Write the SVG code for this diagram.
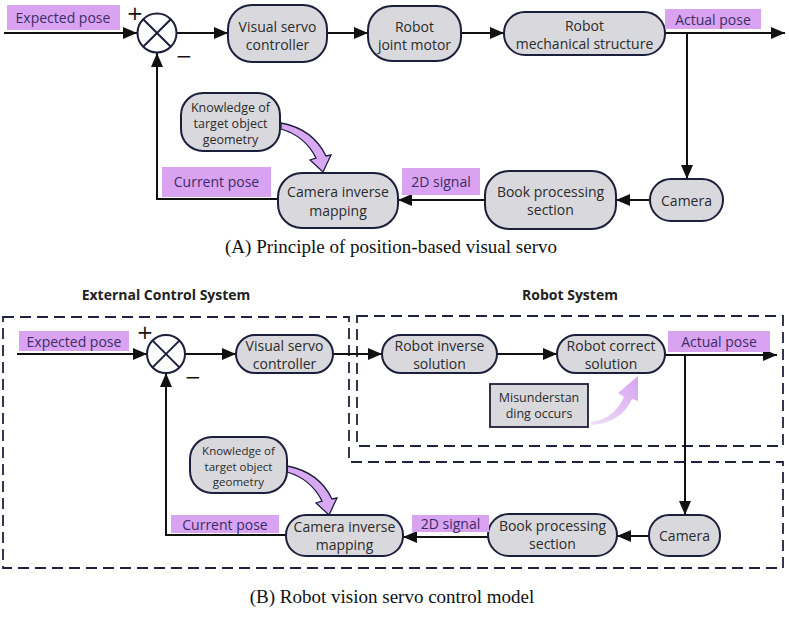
<svg xmlns="http://www.w3.org/2000/svg" width="789" height="617" viewBox="0 0 789 617">
<style>
.node{fill:#d9d9dd;stroke:#1c1f3b;stroke-width:2}
.lbl{fill:#d9a3f2}
.t{font-family:"Open Sans","Noto Sans",sans-serif;font-size:14px;fill:#2b2b2b;text-anchor:middle}
.ts{font-family:"Open Sans","Noto Sans",sans-serif;font-size:12.5px;fill:#2b2b2b;text-anchor:middle}
.tk{font-family:"Open Sans","Noto Sans",sans-serif;font-size:11.5px;fill:#2b2b2b;text-anchor:middle}
.tl{font-family:"Open Sans","Noto Sans",sans-serif;font-size:14px;fill:#3a2d66;text-anchor:middle}
.hd{font-family:"Open Sans","Noto Sans",sans-serif;font-size:14px;font-weight:bold;fill:#222;text-anchor:middle}
.cap{font-family:"Liberation Serif","Times New Roman",serif;font-size:19px;fill:#111;text-anchor:middle}
.sign{font-family:"DejaVu Sans",sans-serif;font-size:20px;fill:#111;text-anchor:middle}
.ln{fill:none;stroke:#111;stroke-width:2}
.dash{fill:none;stroke:#1f2240;stroke-width:1.8;stroke-dasharray:11 6}
.sum{fill:#fff;stroke:#1c1f3b;stroke-width:2}
.bend{fill:#d9a8f2;stroke:#1c1f3b;stroke-width:1.3}
</style>
<defs>
<marker id="ah" viewBox="0 0 14 12" refX="14" refY="6" markerWidth="14" markerHeight="12" markerUnits="userSpaceOnUse" orient="auto">
<path d="M0,0 L14,6 L0,12 Z" fill="#111"/>
</marker>
<linearGradient id="pg" x1="0" y1="1" x2="1" y2="0">
<stop offset="0" stop-color="#efdff7"/>
<stop offset="1" stop-color="#d7a2f0"/>
</linearGradient>
<path id="bendArrow" d="M281,123 Q313,129 326,156 L331,155 L323,172 L310,160 L316,158 Q305,136 281,129 Z"/>
</defs>

<!-- Part A -->
<g id="connectors-a">
<line class="ln" x1="4" y1="33" x2="137" y2="33" marker-end="url(#ah)"/>
<line class="ln" x1="176" y1="33" x2="228" y2="33" marker-end="url(#ah)"/>
<line class="ln" x1="327" y1="33" x2="368" y2="33" marker-end="url(#ah)"/>
<line class="ln" x1="461" y1="33" x2="504" y2="33" marker-end="url(#ah)"/>
<line class="ln" x1="665" y1="33" x2="785" y2="33" marker-end="url(#ah)"/>
<line class="ln" x1="687" y1="33" x2="687" y2="179" marker-end="url(#ah)"/>
<line class="ln" x1="650" y1="200" x2="616" y2="200" marker-end="url(#ah)"/>
<line class="ln" x1="485" y1="200" x2="398" y2="200" marker-end="url(#ah)"/>
<polyline class="ln" points="278,199 157,199 157,53" marker-end="url(#ah)"/>
<use href="#bendArrow" class="bend"/>
</g>
<g id="a-expected"><rect class="lbl" x="7" y="5" width="113" height="25"/><text class="tl" x="63" y="23">Expected pose</text></g>
<g id="a-sum">
<circle class="sum" cx="157" cy="33" r="19.5"/>
<line x1="143.2" y1="19.2" x2="170.8" y2="46.8" stroke="#1c1f3b" stroke-width="2"/>
<line x1="170.8" y1="19.2" x2="143.2" y2="46.8" stroke="#1c1f3b" stroke-width="2"/>
<text class="sign" x="135" y="20">+</text>
<text class="sign" x="184" y="63">−</text>
</g>
<g id="a-vsc"><rect class="node" x="228" y="5" width="99" height="57" rx="24"/><text class="t" x="277.5" y="32">Visual servo</text><text class="t" x="277.5" y="50">controller</text></g>
<g id="a-rjm"><rect class="node" x="368" y="6" width="93" height="55" rx="24"/><text class="t" x="414.5" y="32">Robot</text><text class="t" x="414.5" y="50">joint motor</text></g>
<g id="a-rms"><rect class="node" x="504" y="12" width="161" height="43" rx="21"/><text class="t" x="584.5" y="31">Robot</text><text class="t" x="584.5" y="49">mechanical structure</text></g>
<g id="a-actual"><rect class="lbl" x="665" y="9" width="96" height="20"/><text class="tl" x="713" y="25">Actual pose</text></g>
<g id="a-camera"><rect class="node" x="650" y="179" width="73" height="42" rx="21"/><text class="t" x="686.5" y="206">Camera</text></g>
<g id="a-book"><rect class="node" x="485" y="171" width="131" height="58" rx="24"/><text class="t" x="550.5" y="197">Book processing</text><text class="t" x="550.5" y="215">section</text></g>
<g id="a-2d"><rect class="lbl" x="402" y="168" width="78" height="27"/><text class="tl" x="441" y="187">2D signal</text></g>
<g id="a-cim"><rect class="node" x="278" y="173" width="120" height="55" rx="24"/><text class="t" x="338" y="197">Camera inverse</text><text class="t" x="338" y="216">mapping</text></g>
<g id="a-current"><rect class="lbl" x="162" y="167" width="109" height="30"/><text class="tl" x="216.5" y="187">Current pose</text></g>
<g id="a-knowledge"><rect class="node" x="181" y="93" width="99" height="58" rx="22"/><text class="ts" x="230.5" y="112">Knowledge of</text><text class="ts" x="230.5" y="128">target object</text><text class="ts" x="230.5" y="144">geometry</text></g>
<text class="cap" x="391" y="253">(A) Principle of position-based visual servo</text>

<!-- Part B -->
<g id="b-frames">
<path class="dash" d="M3,317 H349 V462 H783 V568 H3 Z"/>
<rect class="dash" x="357" y="316" width="426" height="130"/>
<text class="hd" x="166" y="300">External Control System</text>
<text class="hd" x="570" y="300">Robot System</text>
</g>
<g id="connectors-b">
<line class="ln" x1="17" y1="354" x2="147" y2="354" marker-end="url(#ah)"/>
<line class="ln" x1="185" y1="354" x2="236" y2="354" marker-end="url(#ah)"/>
<line class="ln" x1="333" y1="354" x2="382" y2="354" marker-end="url(#ah)"/>
<line class="ln" x1="497" y1="354" x2="557" y2="354" marker-end="url(#ah)"/>
<line class="ln" x1="665" y1="355" x2="777" y2="355" marker-end="url(#ah)"/>
<line class="ln" x1="685" y1="355" x2="685" y2="515" marker-end="url(#ah)"/>
<line class="ln" x1="649" y1="536" x2="617" y2="536" marker-end="url(#ah)"/>
<line class="ln" x1="488" y1="537" x2="403" y2="537" marker-end="url(#ah)"/>
<polyline class="ln" points="286,535 166,535 166,373" marker-end="url(#ah)"/>
<use href="#bendArrow" class="bend" transform="translate(6,343)"/>
<path d="M591,422 Q614,419 624,397 L618,393 L638,376 L638,401 L632,399 Q621,423 591,425 Z" fill="url(#pg)"/>
</g>
<g id="b-expected"><rect class="lbl" x="19" y="331" width="110" height="20"/><text class="tl" x="74" y="347">Expected pose</text></g>
<g id="b-sum">
<circle class="sum" cx="166" cy="354" r="19"/>
<line x1="152.6" y1="340.6" x2="179.4" y2="367.4" stroke="#1c1f3b" stroke-width="2"/>
<line x1="179.4" y1="340.6" x2="152.6" y2="367.4" stroke="#1c1f3b" stroke-width="2"/>
<text class="sign" x="145" y="339">+</text>
<text class="sign" x="193" y="384">−</text>
</g>
<g id="b-vsc"><rect class="node" x="236" y="335" width="97" height="38" rx="19"/><text class="t" x="284.5" y="351">Visual servo</text><text class="t" x="284.5" y="369">controller</text></g>
<g id="b-ris"><rect class="node" x="382" y="335" width="115" height="38" rx="19"/><text class="t" x="439.5" y="351">Robot inverse</text><text class="t" x="439.5" y="369">solution</text></g>
<g id="b-rcs"><rect class="node" x="557" y="335" width="108" height="38" rx="19"/><text class="t" x="611" y="351">Robot correct</text><text class="t" x="611" y="369">solution</text></g>
<g id="b-actual"><rect class="lbl" x="668" y="331" width="102" height="21"/><text class="tl" x="719" y="347">Actual pose</text></g>
<g id="b-mis"><rect x="490" y="384" width="98" height="43" fill="#d9d9dd" stroke="#1c1f3b" stroke-width="1.8"/><text class="ts" x="539" y="402">Misunderstan</text><text class="ts" x="539" y="418">ding occurs</text></g>
<g id="b-camera"><rect class="node" x="649" y="515" width="71" height="41" rx="20"/><text class="t" x="684.5" y="541">Camera</text></g>
<g id="b-book"><rect class="node" x="488" y="514" width="129" height="42" rx="21"/><text class="t" x="552.5" y="531">Book processing</text><text class="t" x="552.5" y="549">section</text></g>
<g id="b-2d"><rect class="lbl" x="412" y="515" width="77" height="17"/><text class="tl" x="450.5" y="529">2D signal</text></g>
<g id="b-cim"><rect class="node" x="286" y="515" width="117" height="41" rx="20"/><text class="t" x="344.5" y="532">Camera inverse</text><text class="t" x="344.5" y="550">mapping</text></g>
<g id="b-current"><rect class="lbl" x="171" y="515" width="108" height="18"/><text class="tl" x="225" y="530">Current pose</text></g>
<g id="b-knowledge"><rect class="node" x="190" y="437" width="97" height="56" rx="22"/><text class="tk" x="238.5" y="455">Knowledge of</text><text class="tk" x="238.5" y="470.5">target object</text><text class="tk" x="238.5" y="486">geometry</text></g>
<text class="cap" x="392" y="603">(B) Robot vision servo control model</text>
</svg>
